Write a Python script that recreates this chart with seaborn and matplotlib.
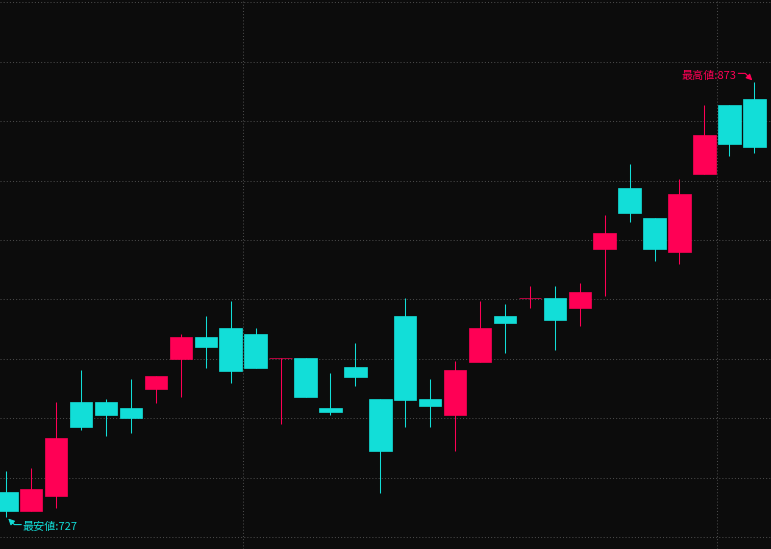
import numpy as np
import pandas as pd
import matplotlib
matplotlib.use("Agg")
import matplotlib.pyplot as plt
import seaborn as sns

# ========== DATA ==========
opens  = [735.3, 729.0, 734.0, 765.5, 765.5, 763.5, 769.9, 780.0, 787.4, 790.4,
          788.4, 780.2, 780.3, 763.5, 777.3, 766.6, 794.5, 766.6, 761.2, 779.0,
          794.5, 800.4, 800.5, 797.1, 817.0, 837.5, 827.4, 816.0, 842.2, 865.4,
          867.4]
closes = [729.0, 736.3, 753.4, 757.1, 761.2, 760.2, 774.3, 787.4, 784.0, 776.0,
          777.0, 780.2, 767.2, 762.2, 773.9, 749.1, 766.2, 764.2, 776.3, 790.4,
          792.1, 800.4, 793.1, 802.5, 822.4, 829.1, 817.0, 835.5, 855.3, 852.3,
          851.3]
highs  = [742.3, 743.4, 765.5, 776.3, 766.6, 773.3, 774.3, 788.4, 794.5, 799.5,
          790.4, 780.2, 780.3, 775.3, 785.4, 766.6, 800.5, 773.3, 779.3, 799.5,
          798.5, 804.5, 804.5, 805.5, 828.4, 845.5, 827.4, 840.5, 865.4, 865.4,
          873.0]
lows   = [727.0, 729.0, 730.0, 756.1, 754.1, 755.1, 765.2, 767.2, 777.0, 771.9,
          777.0, 758.2, 767.2, 761.2, 770.9, 735.0, 757.1, 757.1, 749.1, 779.0,
          782.0, 797.1, 783.0, 791.1, 801.2, 826.1, 812.9, 811.9, 842.2, 848.2,
          849.2]

df = pd.DataFrame({"open": opens, "close": closes, "high": highs, "low": lows})
df["idx"] = np.arange(len(df))

UP = "#ff0055"    # close >= open
DOWN = "#12ded8"  # close < open
BG = "#0c0c0c"

# ========== STYLE ==========
sns.set_theme(style="dark", rc={
    "axes.facecolor": BG,
    "figure.facecolor": BG,
    "grid.color": "#4a4a4a",
})
plt.rcParams["font.family"] = ["Noto Sans CJK JP", "DejaVu Sans"]

fig = plt.figure(figsize=(7.71, 5.49), dpi=100)
ax = fig.add_axes([0, 0, 1, 1])

colors = np.where(df["close"] >= df["open"], UP, DOWN)

# wicks
ax.vlines(df["idx"], df["low"], df["high"], colors=colors, linewidth=0.75, zorder=2)

# bodies (edge line keeps doji candles visible)
bottoms = np.minimum(df["open"], df["close"])
heights = (df["close"] - df["open"]).abs()
ax.bar(df["idx"], heights, bottom=bottoms, width=0.9, color=colors,
       edgecolor=colors, linewidth=0.5, zorder=3)

# grid
ax.set_xlim(-0.253, 30.67)
ax.set_ylim(716.1, 900.7)
ax.set_yticks(np.arange(720, 901, 20))
ax.set_xticks([9.5, 28.5])
ax.tick_params(left=False, bottom=False, labelleft=False, labelbottom=False)
ax.grid(True, linestyle=(0, (1, 2)), linewidth=0.75, color="#4a4a4a", zorder=0)
for s in ax.spines.values():
    s.set_visible(False)

# ========== HIGH / LOW MARKERS ==========
i_hi = int(df["high"].idxmax())
i_lo = int(df["low"].idxmin())
hi_val = df["high"].max()
lo_val = df["low"].min()
arrow = "-|>,head_length=0.3,head_width=0.15"

# labels
ax.annotate(f"最高値:{hi_val:.0f}", xy=(i_hi, hi_val), xytext=(-18, 6),
            textcoords="offset pixels", ha="right", va="center",
            fontsize=8, color=UP)
ax.annotate(f"最安値:{lo_val:.0f}", xy=(i_lo, lo_val), xytext=(16, -10),
            textcoords="offset pixels", ha="left", va="center",
            fontsize=8, color=DOWN)

# bent arrows
ax.annotate("", xy=(i_hi, hi_val), xytext=(-16, 9), textcoords="offset pixels",
            arrowprops=dict(arrowstyle=arrow, color=UP, lw=0.8, shrinkA=0, shrinkB=2,
                            connectionstyle="angle,angleA=0,angleB=-45,rad=0"))
ax.annotate("", xy=(i_lo, lo_val), xytext=(15, -8), textcoords="offset pixels",
            arrowprops=dict(arrowstyle=arrow, color=DOWN, lw=0.8, shrinkA=0, shrinkB=2,
                            connectionstyle="angle,angleA=0,angleB=-45,rad=0"))

fig.savefig("out.png", dpi=100, facecolor=BG)
